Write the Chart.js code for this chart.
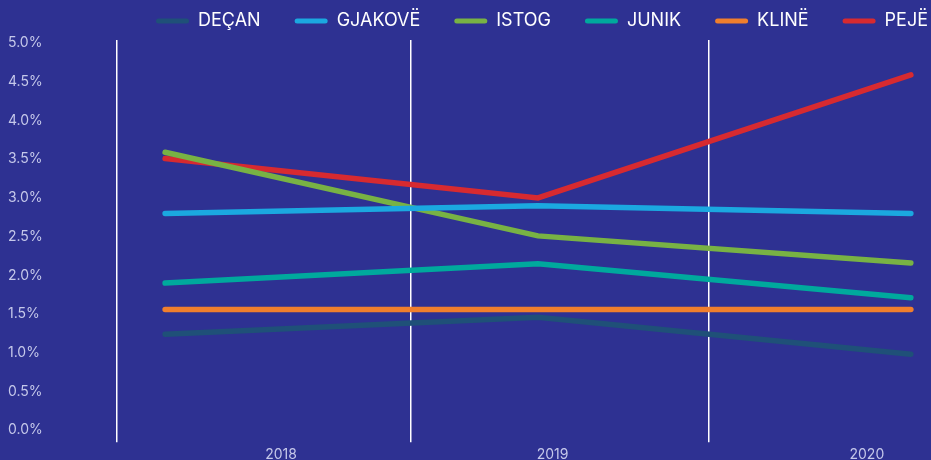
<!DOCTYPE html>
<html>
<head>
<meta charset="utf-8">
<script src="https://cdn.jsdelivr.net/npm/chart.js@4.4.1/dist/chart.umd.min.js"></script>
<style>
  html, body { margin: 0; padding: 0; background: #2e3192; }
  #wrap { width: 931px; height: 460px; }
</style>
</head>
<body>
<div id="wrap"><canvas id="trendChart"></canvas></div>
<script>
// Data (values in %)
const years = ['2018', '2019', '2020'];
const decan = [1.24, 1.46, 0.98];
const gjakove = [2.80, 2.90, 2.80];
const istog = [3.59, 2.51, 2.16];
const junik = [1.90, 2.15, 1.71];
const kline = [1.56, 1.56, 1.56];
const peje = [3.51, 3.00, 4.59];

Chart.defaults.font.family = 'Inter';

// one point per year, x = year index
const toPoints = arr => arr.map((v, i) => ({ x: i, y: v }));

const makeSet = (label, values, color) => ({
  label: label,
  data: toPoints(values),
  borderColor: color,
  backgroundColor: color,
  borderWidth: 5.5,
  borderCapStyle: 'round',
  pointRadius: 0,
  tension: 0,
  fill: false
});

const ctx = document.getElementById('trendChart').getContext('2d');

const trendChart = new Chart(ctx, {
  type: 'line',
  data: {
    datasets: [
      makeSet('DEÇAN', decan, '#1f5078'),
      makeSet('GJAKOVË', gjakove, '#1ba8e0'),
      makeSet('ISTOG', istog, '#78b244'),
      makeSet('JUNIK', junik, '#00a99d'),
      makeSet('KLINË', kline, '#f07f2d'),
      makeSet('PEJË', peje, '#d72a30')
    ]
  },
  options: {
    responsive: true,
    maintainAspectRatio: false,
    animation: false,
    layout: {
      padding: { top: -22, left: 8, right: -31, bottom: -7 }
    },
    plugins: {
      tooltip: { enabled: false },
      legend: {
        position: 'top',
        align: 'end',
        labels: {
          color: '#ffffff',
          font: { size: 18 },
          boxWidth: 33,
          boxHeight: 5,
          padding: 34,
          useBorderRadius: true,
          borderRadius: 2.5,
          generateLabels: chart => {
            // no outline around the legend swatches
            const items = Chart.defaults.plugins.legend.labels.generateLabels(chart);
            items.forEach(item => { item.lineWidth = 0; });
            return items;
          }
        }
      }
    },
    scales: {
      // data axis, also carries the year labels
      x: {
        type: 'linear',
        position: 'bottom',
        weight: 1,
        min: -0.129,
        max: 2.054,
        grid: { display: false, drawTicks: false },
        border: { display: false },
        afterBuildTicks: scale => {
          scale.ticks = [0.311, 1.039, 1.882].map(v => ({ value: v }));
        },
        ticks: {
          color: '#c5c8ea',
          font: { size: 14 },
          padding: 4,
          maxRotation: 0,
          autoSkip: false,
          callback: (value, index) => years[index]
        }
      },
      // white vertical separators
      xGrid: {
        type: 'linear',
        position: 'bottom',
        weight: 0,
        min: -0.129,
        max: 2.054,
        border: { display: false },
        grid: {
          color: '#ffffff',
          lineWidth: 1.5,
          drawTicks: true,
          tickLength: 12
        },
        afterBuildTicks: scale => {
          scale.ticks = [-0.129, 0.660, 1.458].map(v => ({ value: v }));
        },
        ticks: { display: false }
      },
      y: {
        min: 0,
        max: 5.04,
        grid: { display: false },
        border: { display: false },
        afterFit: scale => { scale.width = 109; },
        ticks: {
          stepSize: 0.5,
          includeBounds: false,
          crossAlign: 'far',
          color: '#c5c8ea',
          font: { size: 14 },
          callback: value => value.toFixed(1) + '%'
        }
      }
    }
  }
});
</script>
</body>
</html>
